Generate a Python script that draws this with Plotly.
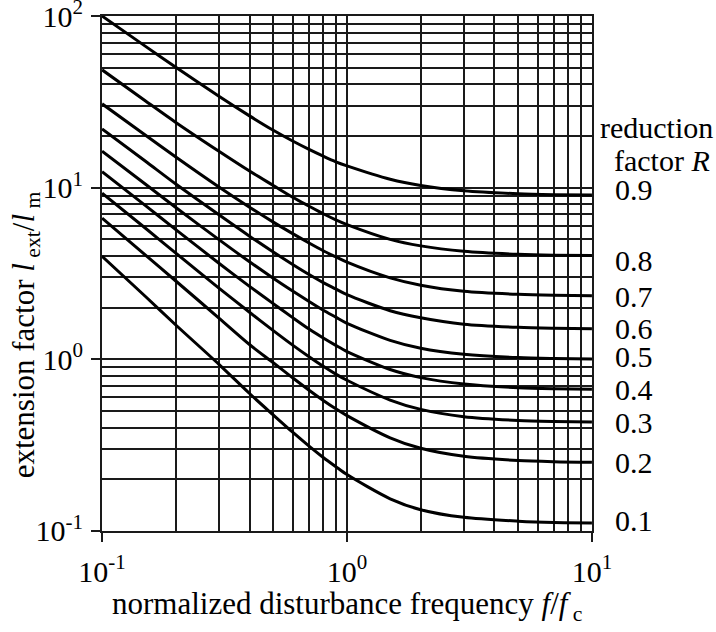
import math
import plotly.graph_objects as go

# ---- data ----
freq = [0.1, 0.15, 0.2, 0.3, 0.4, 0.5, 0.6, 0.7, 0.8, 0.9, 1.0, 1.5, 2.0, 3.0, 5.0, 7.0, 10.0]

R_labels = ["0.9", "0.8", "0.7", "0.6", "0.5", "0.4", "0.3", "0.2", "0.1"]

ext_R09 = [100, 66.8, 50.3, 34.1, 26.2, 21.6, 18.7, 16.7, 15.25, 14.15, 13.4, 11.2, 10.3, 9.6, 9.22, 9.11, 9.05]
ext_R08 = [48.6, 32.1, 24.0, 16.3, 12.5, 10.3, 8.8, 7.8, 7.05, 6.5, 6.1, 5.0, 4.58, 4.26, 4.09, 4.04, 4.02]
ext_R07 = [30.8, 20.3, 15.1, 10.1, 7.7, 6.3, 5.4, 4.76, 4.29, 3.95, 3.68, 2.98, 2.7, 2.49, 2.39, 2.36, 2.345]
ext_R06 = [22.0, 14.3, 10.5, 6.95, 5.22, 4.22, 3.57, 3.12, 2.8, 2.57, 2.38, 1.92, 1.745, 1.6, 1.535, 1.517, 1.508]
ext_R05 = [16.3, 10.5, 7.66, 4.98, 3.7, 2.97, 2.5, 2.17, 1.93, 1.76, 1.62, 1.29, 1.16, 1.07, 1.023, 1.011, 1.005]
ext_R04 = [12.4, 7.88, 5.7, 3.63, 2.66, 2.11, 1.75, 1.5, 1.33, 1.205, 1.11, 0.872, 0.782, 0.717, 0.683, 0.674, 0.67]
ext_R03 = [9.3, 5.82, 4.16, 2.6, 1.88, 1.47, 1.21, 1.035, 0.91, 0.82, 0.755, 0.579, 0.511, 0.463, 0.44, 0.434, 0.431]
ext_R02 = [6.65, 4.06, 2.86, 1.74, 1.22, 0.955, 0.78, 0.66, 0.576, 0.515, 0.47, 0.349, 0.303, 0.272, 0.257, 0.253, 0.251]
ext_R01 = [3.98, 2.33, 1.585, 0.935, 0.632, 0.474, 0.376, 0.312, 0.268, 0.237, 0.213, 0.154, 0.133, 0.12, 0.114, 0.112, 0.1114]

series = [ext_R09, ext_R08, ext_R07, ext_R06, ext_R05, ext_R04, ext_R03, ext_R02, ext_R01]

x_major = [0.1, 1, 10]
x_major_text = ["10<sup>-1</sup>", "10<sup>0</sup>", "10<sup>1</sup>"]
x_minor = [0.2, 0.3, 0.4, 0.5, 0.6, 0.7, 0.8, 0.9, 2, 3, 4, 5, 6, 7, 8, 9]
y_major = [0.1, 1, 10, 100]
y_major_text = ["10<sup>-1</sup>", "10<sup>0</sup>", "10<sup>1</sup>", "10<sup>2</sup>"]
y_minor = [0.2, 0.3, 0.4, 0.5, 0.6, 0.7, 0.8, 0.9, 2, 3, 4, 5, 6, 7, 8, 9,
           20, 30, 40, 50, 60, 70, 80, 90]

# ---- styling ----
FONT = "Liberation Serif"
FS = 30
label_yshift = {"0.9": 6, "0.8": -5, "0.7": -1, "0.6": 0, "0.5": 2, "0.4": 0, "0.3": 0, "0.2": 0, "0.1": 2}

fig = go.Figure()
for lab, ys in zip(R_labels, series):
    fig.add_trace(go.Scatter(
        x=freq, y=ys, mode="lines", name="R=" + lab,
        line=dict(color="black", width=3, shape="spline", smoothing=0.8),
        showlegend=False, hoverinfo="skip"))

grid_col = "#1a1a1a"
axis_common = dict(
    type="log", showline=True, linecolor=grid_col, linewidth=2, mirror=True,
    ticks="outside", ticklen=9, tickwidth=2, tickcolor=grid_col,
    showgrid=True, gridcolor=grid_col, gridwidth=2, zeroline=False,
    tickfont=dict(family=FONT, size=FS, color="black"),
    ticklabeloverflow="allow", automargin=False,
)

fig.update_xaxes(
    **axis_common, range=[-1.0003, 1.0003], tickvals=x_major, ticktext=x_major_text,
    minor=dict(tickvals=x_minor, showgrid=True, gridcolor=grid_col, gridwidth=2, ticks=""),
    ticklabelstandoff=4,
)
fig.update_yaxes(
    **axis_common, range=[-1.0003, 2.0003], tickvals=y_major, ticktext=y_major_text,
    minor=dict(tickvals=y_minor, showgrid=True, gridcolor=grid_col, gridwidth=2, ticks=""),
    ticklabelstandoff=2,
)

annotations = []
for lab, ys in zip(R_labels, series):
    annotations.append(dict(
        xref="paper", x=1, xshift=21, xanchor="left",
        yref="y", y=math.log10(ys[-1]), yshift=label_yshift[lab], yanchor="middle",
        text=lab, showarrow=False, font=dict(family=FONT, size=FS, color="black")))
annotations.append(dict(
    xref="paper", x=1, xshift=6, xanchor="left", yref="paper", y=0.784, yanchor="middle",
    text="reduction", showarrow=False, font=dict(family=FONT, size=FS, color="black")))
annotations.append(dict(
    xref="paper", x=1, xshift=20, xanchor="left", yref="paper", y=0.72, yanchor="middle",
    text="factor <i>R</i>", showarrow=False, font=dict(family=FONT, size=FS, color="black")))
annotations.append(dict(
    xref="paper", x=0.5, xshift=0, yref="paper", y=0, yshift=-75, yanchor="middle",
    text="normalized disturbance frequency <i>f</i>/<i>f</i><sub> c</sub>", showarrow=False,
    font=dict(family=FONT, size=31, color="black")))
annotations.append(dict(
    xref="paper", x=0, xshift=-76, xanchor="center", yref="paper", y=0.38, yanchor="middle",
    text="extension factor <i>l</i><sub> ext</sub>/<i>l</i><sub> m</sub>", showarrow=False,
    textangle=-90, font=dict(family=FONT, size=31, color="black")))

fig.update_layout(
    width=716, height=632,
    margin=dict(l=102, r=124, t=16, b=101, autoexpand=False),
    paper_bgcolor="white", plot_bgcolor="white",
    annotations=annotations,
    font=dict(family=FONT, color="black"),
)

fig.write_html("out.html")
